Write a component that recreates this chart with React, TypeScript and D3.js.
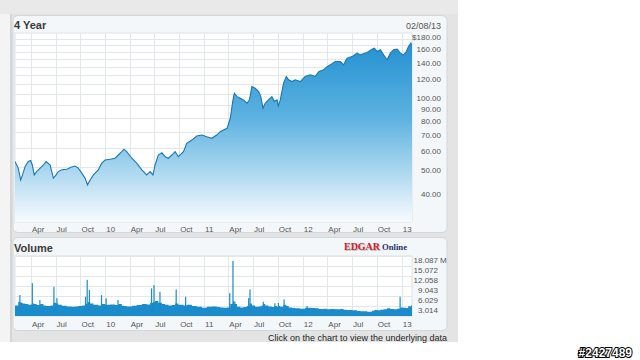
import React from 'react';
import * as d3 from 'd3';

const priceDates = [
  '2009-02-01','2009-02-13','2009-02-22','2009-03-01','2009-03-10','2009-03-22','2009-03-31','2009-04-06','2009-04-13','2009-04-22',
  '2009-05-05','2009-05-17','2009-05-27','2009-06-11','2009-06-23','2009-07-03','2009-07-11','2009-07-24','2009-08-11','2009-08-30',
  '2009-09-11','2009-09-23','2009-10-06','2009-10-18','2009-10-27','2009-11-06','2009-11-18','2009-12-06','2009-12-19','2009-12-31',
  '2010-01-19','2010-02-06','2010-02-18','2010-03-03','2010-03-11','2010-03-21','2010-04-09','2010-04-27','2010-05-16','2010-06-03',
  '2010-06-16','2010-06-26','2010-07-04','2010-07-16','2010-07-29','2010-08-10','2010-08-22','2010-09-04','2010-09-16','2010-09-28',
  '2010-10-17','2010-10-29','2010-11-17','2010-12-05','2010-12-24','2011-01-11','2011-01-30','2011-02-17','2011-03-02','2011-03-14',
  '2011-03-27','2011-04-08','2011-04-18','2011-04-23','2011-05-03','2011-05-15','2011-05-27','2011-06-09','2011-06-18','2011-06-27',
  '2011-07-09','2011-07-22','2011-07-30','2011-08-07','2011-08-15','2011-08-27','2011-09-09','2011-09-18','2011-09-28','2011-10-03',
  '2011-10-10','2011-10-22','2011-11-01','2011-11-10','2011-11-22','2011-12-04','2011-12-23','2012-01-10','2012-01-29','2012-02-16',
  '2012-02-29','2012-03-18','2012-03-31','2012-04-12','2012-04-30','2012-05-19','2012-05-31','2012-06-13','2012-07-01','2012-07-20',
  '2012-08-01','2012-08-26','2012-09-13','2012-09-22','2012-10-02','2012-10-14','2012-10-26','2012-11-08','2012-11-20','2012-12-02',
  '2012-12-15','2012-12-27','2013-01-08','2013-01-18','2013-01-26','2013-02-04','2013-02-08',
];

const priceValues = [
  52.6, 49.4, 44.1, 46.3, 50.1, 52.6, 53.1, 50.9, 46.3, 47.8,
  49.4, 50.9, 52.6, 50.9, 44.9, 46.3, 47.8, 48.6, 48.9, 49.9,
  50.4, 49.4, 47.1, 44.9, 42.1, 44.1, 46.3, 48.6, 51.8, 53.4,
  53.8, 54.3, 56.0, 57.8, 59.2, 57.8, 54.3, 51.8, 48.6, 46.3,
  47.8, 46.3, 50.9, 56.0, 57.2, 55.1, 54.3, 56.0, 57.8, 55.1,
  57.8, 62.6, 64.6, 67.2, 67.8, 66.7, 65.7, 67.8, 70.0, 71.2,
  72.3, 79.6, 94.9, 101.2, 97.9, 96.4, 94.9, 91.9, 94.9, 107.8,
  106.1, 102.7, 97.9, 87.6, 91.9, 94.9, 97.9, 93.4, 94.9, 89.6,
  94.9, 111.4, 118.6, 115.0, 113.1, 115.0, 113.1, 118.6, 120.6, 118.6,
  124.4, 126.5, 130.5, 132.7, 137.0, 137.0, 132.7, 141.5, 143.6, 148.4,
  146.0, 149.3, 154.2, 155.6, 150.7, 153.2, 146.0, 139.2, 148.4, 153.2,
  154.2, 148.4, 146.0, 150.7, 158.1, 163.3, 160.7,
];

const volumeValues = [
  3.2, 4.2, 4.0, 3.8, 3.6, 3.4, 3.5, 3.8, 3.6, 3.3,
  3.6, 3.2, 3.0, 3.2, 4.0, 3.8, 3.4, 3.1, 2.9, 2.8,
  2.9, 3.0, 3.2, 3.6, 4.2, 3.8, 3.4, 3.2, 3.6, 3.4,
  3.5, 3.3, 3.6, 3.1, 3.0, 2.9, 3.1, 3.3, 3.6, 3.5,
  3.9, 4.2, 4.5, 4.0, 3.6, 3.4, 3.2, 3.3, 3.8, 3.4,
  3.2, 3.4, 3.0, 2.8, 2.5, 2.8, 2.9, 2.7, 2.6, 2.5,
  2.6, 3.6, 4.5, 3.6, 2.8, 2.6, 2.7, 3.0, 3.8, 3.2,
  2.8, 2.9, 3.1, 3.6, 3.2, 2.9, 2.7, 3.0, 2.8, 3.0,
  2.8, 3.4, 3.0, 2.6, 2.4, 2.3, 2.2, 2.5, 2.4, 2.3,
  2.1, 2.2, 2.0, 2.1, 2.0, 2.1, 1.9, 1.8, 1.7, 1.5,
  1.4, 1.3, 1.6, 1.8, 1.7, 1.9, 2.0, 2.3, 2.1, 2.0,
  2.2, 2.6, 2.5, 2.4, 2.9, 3.2, 3.0,
];

const spikeDates = [
  '2009-02-19','2009-04-06','2009-05-04','2009-06-25','2009-07-06','2009-10-20','2009-10-26','2009-11-03','2009-12-18','2010-01-04',
  '2010-02-17','2010-06-21','2010-06-30','2010-07-22','2010-09-20','2010-10-25','2011-04-06','2011-04-18','2011-04-25','2011-06-15',
  '2011-06-20','2011-08-08','2011-09-20','2011-10-03','2011-10-24','2012-01-17','2012-12-26','2013-01-28',
];
const spikeValues = [
  6.3, 9.9, 4.8, 8.8, 5.4, 5.8, 10.9, 7.8, 6.3, 5.3,
  4.8, 8.3, 9.3, 7.3, 8.0, 5.8, 6.9, 16.6, 4.3, 5.4,
  8.0, 4.3, 3.8, 3.9, 5.0, 3.0, 5.8, 3.0,
];

const priceTicks = [180, 160, 140, 120, 100, 90, 80, 70, 60, 50, 40];
const priceGrid = [170, 160, 150, 140, 130, 120, 110, 100, 90, 80, 70, 60, 50, 40];
const volumeTicks = [3.014, 6.029, 9.043, 12.058, 15.072, 18.087];
const monthLabels = ['Jan', 'Feb', 'Mar', 'Apr', 'May', 'Jun', 'Jul', 'Aug', 'Sep', 'Oct', 'Nov', 'Dec'];

const FONT = 'Arial, "Liberation Sans", sans-serif';

export default function App() {
  const parse = d3.timeParse('%Y-%m-%d');
  const pData = priceDates.map((d, i) => ({ date: parse(d) as Date, v: priceValues[i] }));
  const vData = priceDates.map((d, i) => ({ date: parse(d) as Date, v: volumeValues[i] }));
  const sData = spikeDates.map((d, i) => ({ date: parse(d) as Date, v: spikeValues[i] }));

  const x = d3.scaleTime().domain([new Date(2009, 1, 1), new Date(2013, 1, 8)]).range([15, 412]);
  const yP = d3.scaleLog().domain([29.5, 180]).range([222, 33]);
  const yV = d3.scaleLinear().domain([0, 18.087]).range([316, 256]);

  const quarters = x.ticks(d3.timeMonth.every(3) as any);
  const qLabel = (d: Date) => (d.getMonth() === 0 ? d3.timeFormat('%y')(d) : monthLabels[d.getMonth()]);

  const area = d3.area<any>().x(d => x(d.date)).y0(222).y1(d => yP(d.v));
  const line = d3.line<any>().x(d => x(d.date)).y(d => yP(d.v));
  const vArea = d3.area<any>().x(d => x(d.date)).y0(yV(0)).y1(d => yV(d.v)).curve(d3.curveStepAfter);

  const axisText = { fontFamily: FONT, fontSize: 8, fill: '#555' } as const;

  return (
    <svg width={640} height={360} style={{ position: 'absolute', left: 0, top: 0, background: '#fff' }}>
      <defs>
        <linearGradient id="pg" gradientUnits="userSpaceOnUse" x1={0} y1={33} x2={0} y2={222}>
          <stop offset="0" stopColor="#1c8dcf" />
          <stop offset="0.45" stopColor="#5db2e0" />
          <stop offset="1" stopColor="#f7fbfe" />
        </linearGradient>
        <clipPath id="pc"><rect x={15} y={33} width={397} height={189} /></clipPath>
      </defs>

      {/* frame */}
      <rect x={0} y={0} width={458} height={14} fill="#e9e9e9" />
      <rect x={0} y={14} width={10} height={328} fill="#f4f4f4" />
      <rect x={10} y={14} width={448} height={328} fill="#e4e4e4" />
      <rect x={10} y={14} width={2} height={328} fill="#d6d6d6" />

      {/* price panel */}
      <rect x={13} y={15.5} width={434} height={217} rx={5} fill="#f4f7f9" stroke="#d2d7db" />
      <text x={14} y={29} fontFamily={FONT} fontSize={11} fontWeight="bold" fill="#3a3a3a">4 Year</text>
      <text x={441} y={29} textAnchor="end" fontFamily={FONT} fontSize={9} fill="#555">02/08/13</text>
      <rect x={15} y={33} width={397} height={189} fill="#fff" stroke="#dde2e6" />
      {priceGrid.map(v => (
        <line key={'pg' + v} x1={15} x2={412} y1={Math.round(yP(v)) + 0.5} y2={Math.round(yP(v)) + 0.5} stroke="#e3e7ea" />
      ))}
      {quarters.map(d => (
        <line key={'pv' + +d} x1={Math.round(x(d)) + 0.5} x2={Math.round(x(d)) + 0.5} y1={33} y2={222} stroke="#e3e7ea" />
      ))}
      <g clipPath="url(#pc)">
        <path d={area(pData) || ''} fill="url(#pg)" />
        <path d={line(pData) || ''} fill="none" stroke="#1a78b6" strokeWidth={1.1} />
      </g>
      {priceTicks.map(v => (
        <text key={'pt' + v} x={441} y={yP(v) + 6.5} textAnchor="end" {...axisText}>
          {v === 180 ? '$' : ''}{d3.format('.2f')(v)}
        </text>
      ))}
      {quarters.map(d => (
        <text key={'px' + +d} x={x(d) + 1} y={232} {...axisText}>{qLabel(d)}</text>
      ))}

      {/* volume panel */}
      <rect x={13} y={237.5} width={434} height={93} rx={5} fill="#f4f7f9" stroke="#d2d7db" />
      <text x={14} y={252} fontFamily={FONT} fontSize={11} fontWeight="bold" fill="#3a3a3a">Volume</text>
      <g fontFamily='"Liberation Serif", "DejaVu Serif", serif' fontWeight="bold">
        <text x={345} y={251} fontSize={10.5} textLength={36} lengthAdjust="spacingAndGlyphs" fill="#999" opacity={0.6}>EDGAR</text>
        <text x={344} y={250} fontSize={10.5} textLength={36} lengthAdjust="spacingAndGlyphs" fill="#d0202e">EDGAR</text>
        <text x={382} y={250} fontSize={7.5} textLength={25} lengthAdjust="spacingAndGlyphs" fill="#1d2f6a">Online</text>
      </g>
      <rect x={15} y={256} width={397} height={60} fill="#fff" stroke="#dde2e6" />
      {volumeTicks.map(v => (
        <line key={'vg' + v} x1={15} x2={412} y1={Math.round(yV(v)) + 0.5} y2={Math.round(yV(v)) + 0.5} stroke="#e3e7ea" />
      ))}
      {quarters.map(d => (
        <line key={'vv' + +d} x1={Math.round(x(d)) + 0.5} x2={Math.round(x(d)) + 0.5} y1={256} y2={316} stroke="#e3e7ea" />
      ))}
      <path d={vArea(vData) || ''} fill="#1a8bcb" />
      {sData.map((d, i) => (
        <rect key={'sp' + i} x={x(d.date) - 0.6} y={yV(d.v)} width={1.2} height={yV(0) - yV(d.v)} fill="#1a8bcb" />
      ))}
      {volumeTicks.map(v => (
        <text key={'vt' + v} x={438} y={yV(v) + 6.5} textAnchor="end" {...axisText}>{v.toFixed(3)}</text>
      ))}
      <text x={440} y={yV(18.087) + 6.5} {...axisText}>M</text>
      {quarters.map(d => (
        <text key={'vx' + +d} x={x(d) + 1} y={327} {...axisText}>{qLabel(d)}</text>
      ))}

      <text x={447} y={341} textAnchor="end" fontFamily={FONT} fontSize={9} fill="#222">Click on the chart to view the underlying data</text>

      <text x={632} y={357} textAnchor="end" fontFamily={FONT} fontSize={12} fontWeight="bold" fill="#fff"
        stroke="#000" strokeWidth={2} paintOrder="stroke" style={{ paintOrder: 'stroke' } as any}>#2427489</text>
    </svg>
  );
}
